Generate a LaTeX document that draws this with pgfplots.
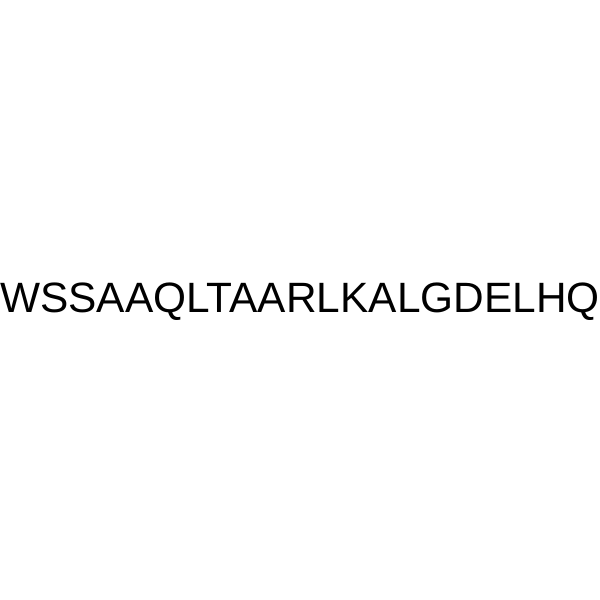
\documentclass[border=0pt]{standalone}
\usepackage{pgfplots}
\pgfplotsset{compat=1.18}
\usepackage{fontspec}
\setmainfont{Liberation Sans}
\begin{document}
\begin{tikzpicture}
\begin{axis}[
    scale only axis,
    width=600bp, height=600bp,
    xmin=0, xmax=600, ymin=0, ymax=600,
    hide axis,
    clip=false,
]
\addplot[draw=none, forget plot] coordinates {(0,0) (600,600)};
\path[fill=white] (axis cs:0,0) rectangle (axis cs:600,600);
\node[anchor=base, inner sep=0pt, font=\fontsize{42.4bp}{50bp}\selectfont]
    at (axis cs:300,287) {WSSAAQLTAARLKALGDELHQ};
\end{axis}
\end{tikzpicture}
\end{document}
